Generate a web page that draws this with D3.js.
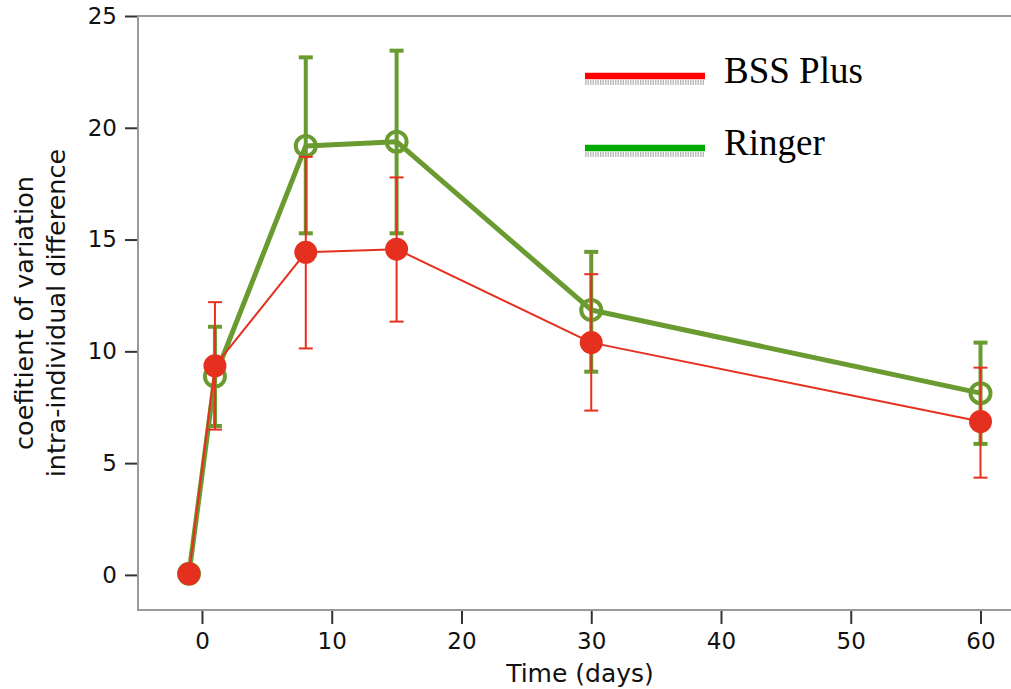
<!DOCTYPE html>
<html><head><meta charset="utf-8">
<script src="https://cdn.jsdelivr.net/npm/d3@7"></script>
<style>body{margin:0;background:#fff}svg{display:block}</style>
</head><body>
<svg id="c" width="1011" height="689"></svg>
<script>
const days = [-1, 1, 8, 15, 30, 60];
const bssMean = [0.05, 9.35, 14.43, 14.57, 10.39, 6.86];
const bssLow  = [null, 6.5, 10.13, 11.33, 7.35, 4.35];
const bssHigh = [null, 12.2, 18.7, 17.78, 13.45, 9.27];
const ringerMean = [0.05, 8.87, 19.19, 19.38, 11.85, 8.13];
const ringerLow  = [null, 6.66, 15.28, 15.28, 9.09, 5.86];
const ringerHigh = [null, 11.1, 23.15, 23.45, 14.45, 10.39];
const xTicks = [0, 10, 20, 30, 40, 50, 60];
const yTicks = [0, 5, 10, 15, 20, 25];
const seriesNames = ["BSS Plus", "Ringer"];

const svg = d3.select("#c");
const x = d3.scaleLinear().domain([-4.93, 62.35]).range([138, 1011]);
const y = d3.scaleLinear().domain([-1.57, 25]).range([610, 16]);
const FONT = "'DejaVu Sans', Verdana, sans-serif";

// frame
const fr = svg.append("g").attr("stroke", "#9a9a9a").attr("stroke-width", 2).attr("fill", "none");
fr.append("line").attr("x1", x.range()[0]).attr("x2", x.range()[0]).attr("y1", y.range()[0]+1).attr("y2", y.range()[1]);
fr.append("line").attr("x1", x.range()[0]-1).attr("x2", x.range()[1]).attr("y1", y.range()[0]).attr("y2", y.range()[0]);
fr.append("line").attr("x1", x.range()[0]-1).attr("x2", x.range()[1]).attr("y1", y.range()[1]).attr("y2", y.range()[1]);

// axes
const ya = svg.append("g").attr("transform", `translate(${x.range()[0]-1},0)`)
  .call(d3.axisLeft(y).tickValues(yTicks).tickSize(12).tickPadding(8));
const xa = svg.append("g").attr("transform", `translate(0,${y.range()[0]+1})`)
  .call(d3.axisBottom(x).tickValues(xTicks).tickSize(13).tickPadding(9));
[ya, xa].forEach(g => {
  g.select(".domain").remove();
  g.selectAll(".tick line").attr("stroke", "#333").attr("stroke-width", 2);
  g.selectAll(".tick text").attr("fill", "#111").style("font-family", FONT).style("font-size", "23px");
});

// axis titles
svg.append("text").attr("x", 580).attr("y", 682).attr("text-anchor", "middle")
  .style("font-family", FONT).style("font-size", "25px").attr("fill", "#111").text("Time (days)");
const yt = svg.append("text").attr("transform", "translate(0,313) rotate(-90)")
  .attr("text-anchor", "middle").style("font-family", FONT).style("font-size", "25.5px").attr("fill", "#111");
yt.append("tspan").attr("x", 0).attr("y", 33).text("coefitient of variation");
yt.append("tspan").attr("x", 0).attr("y", 65).text("intra-individual difference");

function drawSeries(mean, low, high, color, lw, ebw, capw, filled) {
  const g = svg.append("g");
  const pts = days.map((d, i) => ({d, m: mean[i], lo: low[i], hi: high[i]}));
  g.append("path").datum(pts).attr("fill", "none").attr("stroke", color).attr("stroke-width", lw)
    .attr("stroke-linejoin", "round")
    .attr("d", d3.line().x(p => x(p.d)).y(p => y(p.m)));
  const eb = g.selectAll(".eb").data(pts.filter(p => p.lo != null)).join("g")
    .attr("stroke", color).attr("stroke-width", ebw);
  eb.append("line").attr("x1", p => x(p.d)).attr("x2", p => x(p.d)).attr("y1", p => y(p.lo)).attr("y2", p => y(p.hi));
  eb.append("line").attr("x1", p => x(p.d) - 7).attr("x2", p => x(p.d) + 7).attr("y1", p => y(p.lo)).attr("y2", p => y(p.lo)).attr("stroke-width", capw);
  eb.append("line").attr("x1", p => x(p.d) - 7).attr("x2", p => x(p.d) + 7).attr("y1", p => y(p.hi)).attr("y2", p => y(p.hi)).attr("stroke-width", capw);
  g.selectAll("circle").data(pts).join("circle")
    .attr("cx", p => x(p.d)).attr("cy", p => y(p.m))
    .attr("r", filled ? 11.5 : 10)
    .attr("fill", filled ? color : "none")
    .attr("stroke", filled ? "none" : color).attr("stroke-width", filled ? 0 : 4);
}
drawSeries(ringerMean, ringerLow, ringerHigh, "#6a9b30", 5, 4, 4, false);
drawSeries(bssMean, bssLow, bssHigh, "#e6301f", 2, 2, 2, true);

// legend
const legColors = ["#ff0000", "#00aa00"];
const legY = [76, 148];
const lg = svg.append("g");
seriesNames.forEach((n, i) => {
  lg.append("line").attr("x1", 585).attr("x2", 705).attr("y1", legY[i] + 6.5).attr("y2", legY[i] + 6.5)
    .attr("stroke", "#bdbdbd").attr("stroke-width", 5).attr("stroke-dasharray", "1.5 1");
  lg.append("line").attr("x1", 585).attr("x2", 705).attr("y1", legY[i]).attr("y2", legY[i])
    .attr("stroke", legColors[i]).attr("stroke-width", 6.5);
  lg.append("text").attr("x", 724).attr("y", legY[i] + 7).style("font-family", "'Liberation Serif', 'Times New Roman', serif")
    .style("font-size", "37px").attr("fill", "#000").text(n);
});
</script>
</body></html>
